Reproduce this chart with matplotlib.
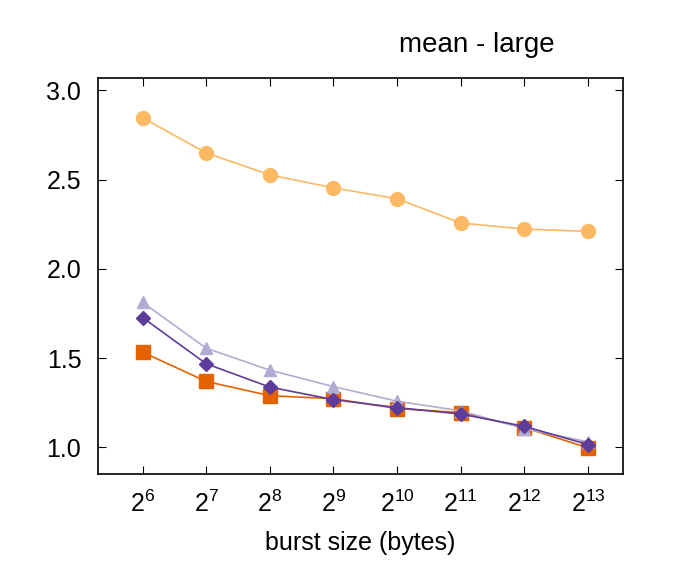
"""Mean latency ratio vs burst size (large)."""
import matplotlib
matplotlib.use("Agg")
import matplotlib.pyplot as plt

plt.rcParams["font.family"] = ["Liberation Sans", "DejaVu Sans"]
plt.rcParams["mathtext.fontset"] = "custom"
plt.rcParams["mathtext.rm"] = "Liberation Sans"
plt.rcParams["mathtext.it"] = "Liberation Sans"
plt.rcParams["mathtext.default"] = "rm"

# log2 of burst size
exponents = [6, 7, 8, 9, 10, 11, 12, 13]
tick_labels = [f"$2^{{{e}}}$" for e in exponents]

circle_vals = [2.847, 2.650, 2.527, 2.454, 2.393, 2.257, 2.223, 2.210]
square_vals = [1.533, 1.369, 1.289, 1.272, 1.217, 1.194, 1.110, 0.997]
triangle_vals = [1.812, 1.555, 1.432, 1.340, 1.258, 1.204, 1.104, 1.030]
diamond_vals = [1.727, 1.468, 1.337, 1.267, 1.222, 1.186, 1.117, 1.015]


def main() -> None:
    fig = plt.figure(figsize=(6.77, 5.64), dpi=100)
    ax = fig.add_axes([0.1448, 0.1596, 0.7755, 0.7021])

    ax.plot(exponents, circle_vals, color="#fdb863", marker="o", markersize=10,
            linewidth=1.2, zorder=3)
    ax.plot(exponents, square_vals, color="#e66101", marker="s", markersize=10,
            linewidth=1.2, zorder=4)
    ax.plot(exponents, triangle_vals, color="#b2abd2", marker="^", markersize=9,
            linewidth=1.2, zorder=5)
    ax.plot(exponents, diamond_vals, color="#5e3c99", marker="D", markersize=7,
            linewidth=1.2, zorder=6)

    ax.set_xlim(5.3, 13.55)
    ax.set_ylim(0.85, 3.07)
    ax.set_xticks(exponents)
    ax.set_xticklabels(tick_labels)
    ax.set_yticks([1.0, 1.5, 2.0, 2.5, 3.0])
    ax.set_yticklabels(["1.0", "1.5", "2.0", "2.5", "3.0"])
    ax.tick_params(direction="in", top=True, right=True, length=6, width=0.8,
                   labelsize=18, pad=12)
    ax.tick_params(axis="x", pad=12)
    for sp in ax.spines.values():
        sp.set_linewidth(1.2)

    ax.set_xlabel("burst size (bytes)", fontsize=18, labelpad=10)
    fig.text(0.705, 0.92, "mean - large", fontsize=20, ha="center", va="center")

    fig.savefig("out.png", dpi=100)
    plt.close(fig)


if __name__ == "__main__":
    main()
